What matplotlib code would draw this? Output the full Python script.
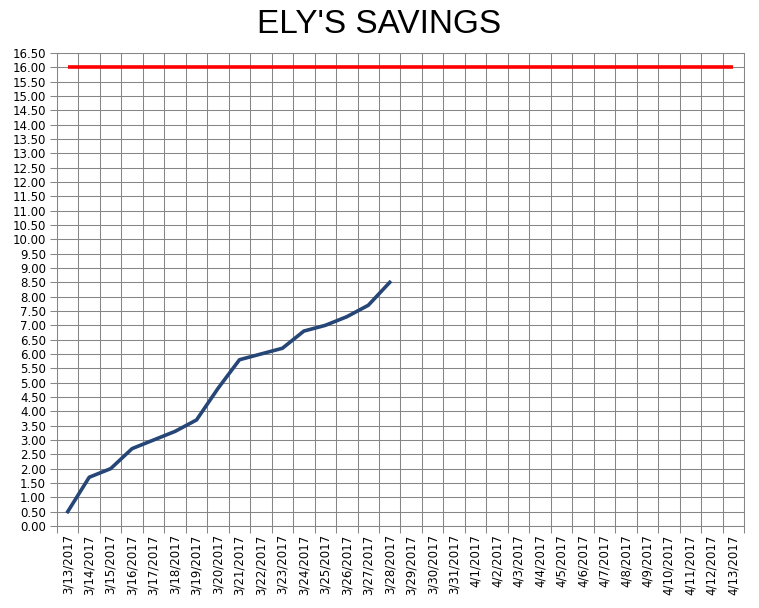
import numpy as np
import matplotlib.pyplot as plt
from matplotlib.ticker import FixedLocator, FuncFormatter

# Dates on the category axis
dates = ['3/13/2017', '3/14/2017', '3/15/2017', '3/16/2017', '3/17/2017', '3/18/2017',
         '3/19/2017', '3/20/2017', '3/21/2017', '3/22/2017', '3/23/2017', '3/24/2017',
         '3/25/2017', '3/26/2017', '3/27/2017', '3/28/2017', '3/29/2017', '3/30/2017',
         '3/31/2017', '4/1/2017', '4/2/2017', '4/3/2017', '4/4/2017', '4/5/2017',
         '4/6/2017', '4/7/2017', '4/8/2017', '4/9/2017', '4/10/2017', '4/11/2017',
         '4/12/2017', '4/13/2017']

# Savings so far (only the first 16 days are filled in)
savings = [0.5, 1.7, 2.0, 2.7, 3.0, 3.3, 3.7, 4.8, 5.8, 6.0, 6.2, 6.8, 7.0, 7.3, 7.7, 8.5]

# Goal line
goal = [16.0] * len(dates)

x_all = np.arange(len(dates))

fig = plt.figure(figsize=(7.59, 6.08), dpi=100)
ax = fig.add_axes([0.0751, 0.1349, 0.9051, 0.7779])

ax.plot(x_all, goal, color='#FF0000', linewidth=2.6, solid_capstyle='butt', zorder=3)
ax.plot(x_all[:len(savings)], savings, color='#254677', linewidth=2.6, zorder=4)

ax.set_xlim(-0.5, len(dates) - 0.5)
ax.set_ylim(0, 16.5)

# category axis: labels in the middle, ticks/grid on the boundaries
ax.set_xticks(x_all)
ax.set_xticklabels(dates, rotation=90, fontsize=8.5)
ax.xaxis.set_minor_locator(FixedLocator(np.arange(-0.5, len(dates), 1.0)))
ax.tick_params(axis='x', which='major', length=0, pad=6)
ax.tick_params(axis='x', which='minor', length=5, color='#868686', width=0.75)
ax.grid(True, axis='x', which='minor', color='#868686', linewidth=0.75)

ax.set_yticks(np.arange(0, 16.51, 0.5))
ax.yaxis.set_major_formatter(FuncFormatter(lambda v, p: '%.2f' % v))
ax.tick_params(axis='y', length=5, color='#868686', width=0.75, labelsize=8.5, pad=3)
ax.grid(True, axis='y', which='major', color='#868686', linewidth=0.75)
ax.set_axisbelow(True)

for s in ax.spines.values():
    s.set_color('#868686')
    s.set_linewidth(0.75)

fig.suptitle("ELY'S SAVINGS", fontsize=24, family='Liberation Sans', y=0.985)

plt.savefig('out.png', dpi=100)
